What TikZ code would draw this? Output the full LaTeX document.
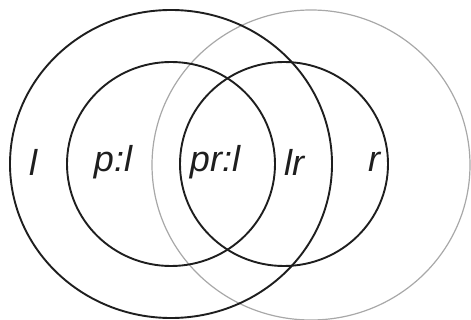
\documentclass[tikz,border=0pt]{standalone}
\usepackage{fontspec}
\setsansfont{Liberation Sans}
\usepackage{tikz}
\usetikzlibrary{positioning}
\definecolor{ink}{HTML}{1E1E1E}
\definecolor{faint}{HTML}{A8A8A8}
\tikzset{outer/.style={draw=ink,line width=1.9pt},
  inner/.style={draw=ink,line width=1.9pt},
  other/.style={draw=faint,line width=1.2pt},
  lab/.style={font=\sffamily\itshape\fontsize{36}{36}\selectfont,text=ink,inner sep=0pt}}

\begin{document}
\begin{tikzpicture}[x=1pt,y=-1pt]
\useasboundingbox (0,0) rectangle (471,320);
% Centres of the four sets.
\coordinate (cl) at (171,164);
\coordinate (cr) at (311,165);
\coordinate (cpl) at (171,164);
\coordinate (cpr) at (284,164);

% Outer sets: l (black) and r (grey).
\draw[other] (cr) ellipse [x radius=159pt,y radius=155pt];
\draw[outer] (cl) ellipse [x radius=161pt,y radius=154pt];

% Inner sets.
\draw[inner] (cpl) ellipse [x radius=104pt,y radius=102pt];
\draw[inner] (cpr) ellipse [x radius=104pt,y radius=102pt];

% Region labels.
\node[lab] (l) at (33,162) {l};
\node[lab] (pl) at (113,162) {p:l};
\node[lab] (prl) at (215,162) {pr:l};
\node[lab] (lr) at (294,162) {lr};
\node[lab] (r) at (374,162) {r};
\end{tikzpicture}
\end{document}
